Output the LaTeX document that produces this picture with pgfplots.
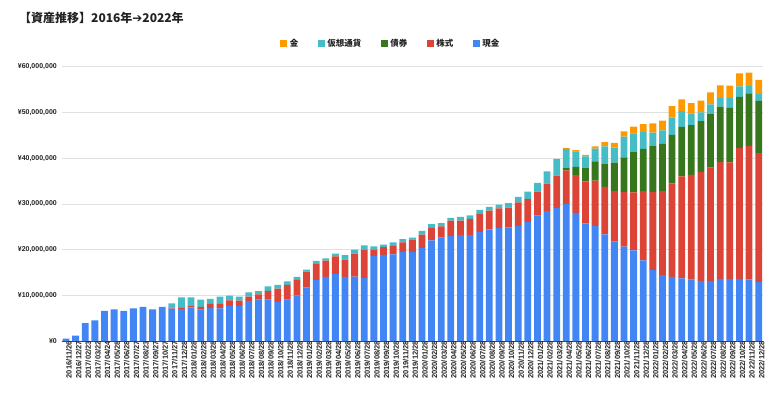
\documentclass[border=0pt]{standalone}
\usepackage{pgfplots}
\usepackage{pgfplotstable}
\pgfplotsset{compat=1.18}
\usepackage{fontspec}
\setmainfont{Liberation Sans}
\newfontfamily\cjk{Noto Sans CJK JP}
\newfontfamily\dejavu{DejaVu Sans}
\definecolor{cblue}{HTML}{4285F4}
\definecolor{cred}{HTML}{DB4437}
\definecolor{cgreen}{HTML}{38761D}
\definecolor{ccyan}{HTML}{46BDC6}
\definecolor{corange}{HTML}{FF9900}
\definecolor{gridc}{HTML}{E0E0E0}
\definecolor{txt}{HTML}{222222}
% values in millions of yen
\pgfplotstableread{
i date blue red green cyan gold
0 2016/11/26 0.5 0 0 0 0
1 2016/12/27 1.2 0 0 0 0
2 2017/02/23 3.9 0 0 0 0
3 2017/03/22 4.5 0 0 0 0
4 2017/04/24 6.6 0 0 0 0
5 2017/05/28 6.9 0 0 0 0
6 2017/06/28 6.6 0 0 0 0
7 2017/07/27 7.15 0 0 0 0
8 2017/08/23 7.45 0 0 0 0
9 2017/09/27 6.9 0 0 0 0
10 2017/10/27 7.45 0 0 0 0
11 2017/11/27 7.1 0.2 0 0.95 0
12 2017/12/28 7.0 0.25 0 2.3 0
13 2018/01/28 7.35 0.3 0 1.9 0
14 2018/02/28 6.85 0.6 0 1.6 0
15 2018/03/28 7.2 0.9 0 1.1 0
16 2018/04/28 7.15 0.95 0 1.6 0
17 2018/05/28 7.7 1.2 0 1.0 0
18 2018/06/28 7.7 1.15 0 0.85 0
19 2018/07/28 8.7 1.0 0 0.95 0
20 2018/08/28 9.05 1.15 0 0.7 0
21 2018/09/28 9.05 1.9 0 1.0 0
22 2018/10/28 8.55 2.9 0 0.8 0
23 2018/11/28 9.05 3.25 0 0.75 0
24 2018/12/28 9.9 3.6 0 0.5 0
25 2019/01/28 11.65 3.5 0 0.45 0
26 2019/02/28 13.3 3.7 0 0.5 0
27 2019/03/28 14.0 3.6 0 0.5 0
28 2019/04/28 14.65 3.85 0 0.6 0
29 2019/05/28 14.0 3.8 0 1.0 0
30 2019/06/28 14.1 5.0 0 0.9 0
31 2019/07/28 13.75 6.25 0 0.9 0
32 2019/08/28 18.6 1.4 0 0.7 0
33 2019/09/28 18.85 1.7 0 0.55 0
34 2019/10/28 18.95 1.85 0 0.8 0
35 2019/11/28 19.45 2.1 0 0.75 0
36 2019/12/28 19.45 2.7 0 0.45 0
37 2020/01/28 20.3 2.95 0 0.85 0
38 2020/02/28 22.0 2.75 0 0.8 0
39 2020/03/28 22.6 2.45 0 0.75 0
40 2020/04/28 23.0 3.35 0 0.6 0
41 2020/05/28 23.15 3.2 0 0.8 0
42 2020/06/28 23.15 3.55 0 0.8 0
43 2020/07/28 23.8 4.1 0 0.8 0
44 2020/08/28 24.4 4.1 0 0.85 0
45 2020/09/28 24.75 4.25 0 0.85 0
46 2020/10/28 24.85 4.3 0 1.0 0
47 2020/11/28 25.15 5.15 0 1.2 0
48 2020/12/28 26.0 5.1 0 1.6 0
49 2021/01/28 27.45 5.25 0 1.9 0
50 2021/02/28 28.4 6.0 0 2.7 0
51 2021/03/28 29.1 7.1 0 3.65 0
52 2021/04/28 30.0 7.3 0.6 4.1 0.2
53 2021/05/28 28.0 8.3 1.8 3.4 0.25
54 2021/06/28 25.75 9.15 2.9 2.6 0.3
55 2021/07/28 25.2 9.9 4.2 2.8 0.45
56 2021/08/28 23.35 10.35 5.1 3.8 0.9
57 2021/09/28 21.75 11.05 6.2 3.3 1.05
58 2021/10/28 20.65 11.9 7.6 4.55 1.15
59 2021/11/28 19.8 12.7 8.9 4.0 1.5
60 2021/12/28 17.65 15.15 9.25 3.7 1.7
61 2022/01/28 15.5 17.1 10.05 2.95 2.0
62 2022/02/28 14.4 18.4 10.3 2.95 2.15
63 2022/03/28 14.0 20.5 10.6 3.75 2.55
64 2022/04/28 13.7 22.3 10.85 3.45 2.55
65 2022/05/28 13.4 22.95 10.85 2.6 2.25
66 2022/06/26 13.15 23.85 11.1 1.9 2.6
67 2022/07/28 13.15 24.8 11.7 2.1 2.65
68 2022/08/28 13.6 25.6 12.05 1.9 2.75
69 2022/09/28 13.6 25.45 11.95 2.15 2.7
70 2022/10/28 13.6 28.6 11.2 2.3 2.85
71 2022/11/28 13.5 29.2 11.45 1.6 2.95
72 2022/12/28 12.9 28.2 11.4 1.5 3.1
}\data
\begin{document}
\begin{tikzpicture}[x=1pt,y=1pt]
\path[use as bounding box] (0,0) rectangle (780,397);
\node[anchor=west, inner sep=0pt, text=txt] at (19,379)
  {\cjk\bfseries\fontsize{12}{14}\selectfont 【資産推移】2016年{\dejavu\bfseries ➔}2022年};
\begin{axis}[
  at={(61.7pt,56pt)}, anchor=south west,
  scale only axis, width=701.3pt, height=274.3pt,
  ybar stacked, bar width=6.8pt,
  xmin=-0.45, xmax=72.45, ymin=0, ymax=60,
  axis x line*=bottom, axis y line*=left,
  y axis line style={draw=none},
  x axis line style={draw=black!75, line width=0.9pt},
  major tick length=0pt,
  ymajorgrids, grid style={gridc, line width=0.6pt},
  ytick={0,10,20,30,40,50,60},
  yticklabels={{¥0},{¥10,000,000},{¥20,000,000},{¥30,000,000},{¥40,000,000},{¥50,000,000},{¥60,000,000}},
  yticklabel style={font=\bfseries\fontsize{7}{8}\selectfont, text=txt, inner sep=0pt, xshift=-4.7pt},
  xtick=data,
  xticklabels from table={\data}{date},
  xticklabel style={rotate=90, anchor=east, font=\bfseries\fontsize{7.5}{8}\selectfont, text=txt, inner sep=0pt, yshift=-3pt},
  reverse legend,
  legend columns=5,
  legend cell align=left,
  legend image code/.code={\fill[#1] (0pt,-3.5pt) rectangle (7pt,3.5pt);},
  legend style={at={(0.4696,1.083)}, anchor=center, draw=none, fill=none,
    font=\cjk\bfseries\fontsize{8.5}{10}\selectfont, text=txt,
    /tikz/every even column/.append style={column sep=17pt},
    nodes={inner sep=2.5pt}},
]
\addplot[fill=cblue, draw=none] table[x=i, y=blue] {\data};
\addplot[fill=cred, draw=none] table[x=i, y=red] {\data};
\addplot[fill=cgreen, draw=none] table[x=i, y=green] {\data};
\addplot[fill=ccyan, draw=none] table[x=i, y=cyan] {\data};
\addplot[fill=corange, draw=none] table[x=i, y=gold] {\data};
\legend{現金,株式,債券,仮想通貨,金}
\end{axis}
\end{tikzpicture}
\end{document}
